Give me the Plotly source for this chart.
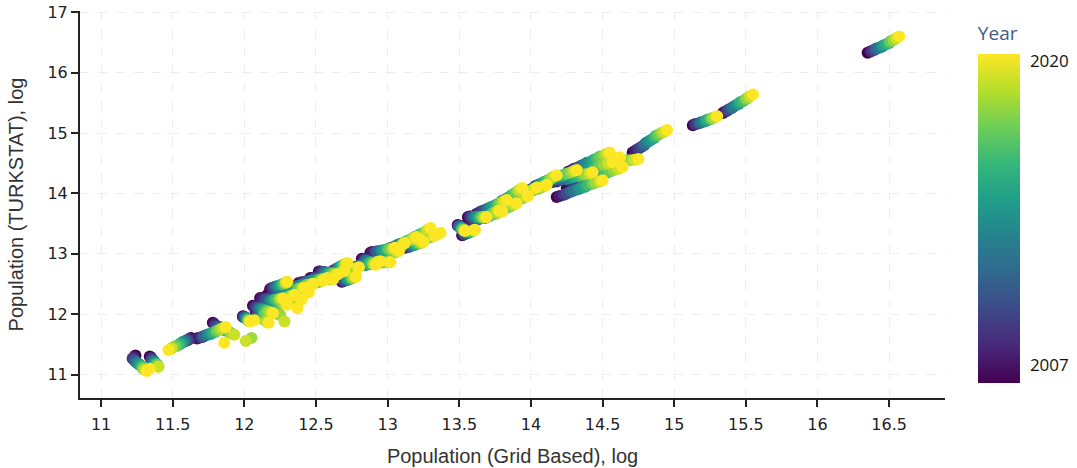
import plotly.graph_objects as go

years = [2007, 2008, 2009, 2010, 2011, 2012, 2013, 2014, 2015, 2016, 2017, 2018, 2019, 2020]

# Each province: log population (grid based) = x, log population (TURKSTAT) = y, per year 2007..2020
p01_x = [11.24, 11.23, 11.22, 11.23, 11.24, 11.25, 11.26, 11.27, 11.28, 11.29, 11.29, 11.30, 11.31, 11.32]
p01_y = [11.32, 11.29, 11.27, 11.25, 11.22, 11.20, 11.18, 11.16, 11.15, 11.13, 11.11, 11.09, 11.08, 11.06]
p02_x = [11.34, 11.35, 11.35, 11.36, 11.36, 11.37, 11.37, 11.38, 11.38, 11.39, 11.39, 11.40, 11.40, 11.34]
p02_y = [11.30, 11.28, 11.26, 11.25, 11.23, 11.22, 11.20, 11.19, 11.18, 11.17, 11.16, 11.14, 11.13, 11.10]
p03_x = [11.63, 11.62, 11.61, 11.60, 11.59, 11.58, 11.57, 11.56, 11.55, 11.54, 11.52, 11.50, 11.49, 11.47]
p03_y = [11.61, 11.60, 11.58, 11.57, 11.56, 11.55, 11.54, 11.52, 11.51, 11.49, 11.47, 11.45, 11.43, 11.41]
p04_x = [11.67, 11.68, 11.70, 11.71, 11.72, 11.74, 11.75, 11.77, 11.78, 11.80, 11.81, 11.83, 11.85, 11.87]
p04_y = [11.60, 11.61, 11.62, 11.63, 11.64, 11.66, 11.67, 11.68, 11.70, 11.71, 11.73, 11.75, 11.77, 11.79]
p05_x = [11.78, 11.79, 11.80, 11.81, 11.83, 11.84, 11.85, 11.86, 11.88, 11.89, 11.90, 11.91, 11.93, 11.86]
p05_y = [11.86, 11.84, 11.82, 11.80, 11.79, 11.77, 11.76, 11.74, 11.73, 11.71, 11.70, 11.68, 11.66, 11.53]
p06_x = [12.09, 12.10, 12.10, 12.11, 12.12, 12.12, 12.13, 12.13, 12.14, 12.14, 12.15, 12.05, 12.01, 12.07]
p06_y = [11.95, 11.96, 11.96, 11.97, 11.98, 11.98, 11.99, 12.00, 12.00, 12.01, 12.02, 11.61, 11.56, 11.90]
p07_x = [12.11, 12.12, 12.14, 12.15, 12.17, 12.18, 12.20, 12.21, 12.23, 12.24, 12.26, 12.27, 12.29, 12.30]
p07_y = [12.27, 12.26, 12.25, 12.25, 12.24, 12.23, 12.22, 12.21, 12.21, 12.20, 12.19, 12.18, 12.17, 12.16]
p08_x = [12.06, 12.07, 12.08, 12.09, 12.10, 12.11, 12.12, 12.13, 12.14, 12.15, 12.16, 12.17, 12.19, 12.20]
p08_y = [12.14, 12.13, 12.12, 12.11, 12.10, 12.10, 12.09, 12.08, 12.07, 12.06, 12.05, 12.04, 12.03, 12.02]
p09_x = [11.99, 11.99, 12.00, 12.00, 12.01, 12.01, 12.02, 12.02, 12.02, 12.03, 12.03, 12.03, 12.04, 12.04]
p09_y = [11.97, 11.96, 11.96, 11.95, 11.94, 11.94, 11.93, 11.92, 11.92, 11.91, 11.90, 11.89, 11.89, 11.88]
p10_x = [12.08, 12.09, 12.09, 12.10, 12.11, 12.11, 12.12, 12.13, 12.13, 12.14, 12.15, 12.15, 12.16, 12.17]
p10_y = [12.04, 12.03, 12.01, 12.00, 11.98, 11.97, 11.95, 11.94, 11.93, 11.91, 11.90, 11.89, 11.87, 11.86]
p11_x = [12.14, 12.15, 12.16, 12.17, 12.18, 12.19, 12.20, 12.21, 12.22, 12.23, 12.24, 12.25, 12.28, 12.37]
p11_y = [12.08, 12.07, 12.06, 12.06, 12.05, 12.04, 12.03, 12.03, 12.02, 12.01, 12.00, 11.99, 11.88, 12.10]
p12_x = [12.16, 12.18, 12.20, 12.22, 12.23, 12.25, 12.27, 12.29, 12.31, 12.33, 12.35, 12.36, 12.38, 12.40]
p12_y = [12.32, 12.31, 12.31, 12.30, 12.30, 12.29, 12.29, 12.28, 12.27, 12.27, 12.26, 12.25, 12.25, 12.24]
p13_x = [12.18, 12.19, 12.20, 12.21, 12.22, 12.23, 12.24, 12.25, 12.26, 12.27, 12.28, 12.29, 12.29, 12.30]
p13_y = [12.42, 12.43, 12.44, 12.45, 12.46, 12.46, 12.47, 12.48, 12.49, 12.50, 12.51, 12.52, 12.53, 12.54]
p14_x = [12.24, 12.25, 12.27, 12.28, 12.30, 12.31, 12.33, 12.34, 12.36, 12.37, 12.38, 12.40, 12.41, 12.42]
p14_y = [12.36, 12.37, 12.37, 12.38, 12.38, 12.39, 12.40, 12.40, 12.41, 12.42, 12.42, 12.43, 12.44, 12.44]
p15_x = [12.30, 12.31, 12.33, 12.34, 12.36, 12.37, 12.39, 12.40, 12.42, 12.43, 12.44, 12.46, 12.47, 12.48]
p15_y = [12.45, 12.45, 12.46, 12.46, 12.46, 12.47, 12.47, 12.48, 12.48, 12.48, 12.49, 12.49, 12.50, 12.50]
p16_x = [12.38, 12.40, 12.41, 12.43, 12.44, 12.46, 12.47, 12.49, 12.51, 12.52, 12.54, 12.55, 12.57, 12.58]
p16_y = [12.52, 12.53, 12.53, 12.54, 12.54, 12.55, 12.56, 12.56, 12.57, 12.57, 12.58, 12.59, 12.59, 12.60]
p17_x = [12.52, 12.53, 12.54, 12.55, 12.56, 12.57, 12.58, 12.59, 12.60, 12.61, 12.62, 12.63, 12.64, 12.65]
p17_y = [12.71, 12.71, 12.70, 12.70, 12.70, 12.69, 12.69, 12.68, 12.68, 12.68, 12.67, 12.67, 12.66, 12.66]
p18_x = [12.46, 12.47, 12.49, 12.50, 12.51, 12.52, 12.54, 12.55, 12.56, 12.57, 12.59, 12.60, 12.61, 12.62]
p18_y = [12.60, 12.60, 12.60, 12.60, 12.59, 12.59, 12.59, 12.59, 12.59, 12.58, 12.58, 12.58, 12.58, 12.58]
p19_x = [12.68, 12.69, 12.69, 12.70, 12.71, 12.72, 12.72, 12.73, 12.74, 12.75, 12.75, 12.76, 12.77, 12.78]
p19_y = [12.54, 12.55, 12.55, 12.56, 12.57, 12.57, 12.58, 12.59, 12.59, 12.60, 12.60, 12.61, 12.62, 12.62]
p20_x = [12.62, 12.63, 12.64, 12.64, 12.65, 12.66, 12.67, 12.67, 12.68, 12.69, 12.70, 12.70, 12.71, 12.72]
p20_y = [12.72, 12.73, 12.74, 12.75, 12.76, 12.77, 12.78, 12.79, 12.80, 12.81, 12.82, 12.83, 12.84, 12.85]
p21_x = [12.74, 12.76, 12.77, 12.79, 12.80, 12.82, 12.84, 12.85, 12.87, 12.88, 12.90, 12.92, 12.93, 12.95]
p21_y = [12.76, 12.77, 12.78, 12.79, 12.80, 12.81, 12.81, 12.82, 12.83, 12.84, 12.85, 12.86, 12.87, 12.88]
p22_x = [12.88, 12.89, 12.91, 12.92, 12.93, 12.95, 12.96, 12.97, 12.99, 13.00, 13.01, 13.03, 13.04, 13.05]
p22_y = [13.02, 13.03, 13.03, 13.04, 13.04, 13.05, 13.05, 13.06, 13.07, 13.07, 13.08, 13.08, 13.09, 13.10]
p23_x = [12.82, 12.83, 12.84, 12.84, 12.85, 12.86, 12.87, 12.87, 12.88, 12.89, 12.90, 12.90, 12.91, 12.92]
p23_y = [12.92, 12.91, 12.90, 12.90, 12.89, 12.88, 12.87, 12.86, 12.86, 12.85, 12.84, 12.83, 12.83, 12.82]
p24_x = [12.86, 12.87, 12.88, 12.90, 12.91, 12.92, 12.93, 12.95, 12.96, 12.97, 12.98, 13.00, 13.01, 13.02]
p24_y = [12.85, 12.85, 12.85, 12.85, 12.85, 12.85, 12.86, 12.86, 12.86, 12.86, 12.86, 12.86, 12.86, 12.86]
p25_x = [12.98, 13.00, 13.01, 13.03, 13.05, 13.06, 13.08, 13.10, 13.12, 13.13, 13.15, 13.17, 13.18, 13.20]
p25_y = [13.05, 13.07, 13.09, 13.10, 13.12, 13.14, 13.16, 13.17, 13.19, 13.21, 13.23, 13.24, 13.26, 13.28]
p26_x = [13.05, 13.07, 13.09, 13.11, 13.13, 13.15, 13.17, 13.19, 13.21, 13.23, 13.25, 13.27, 13.28, 13.30]
p26_y = [13.10, 13.12, 13.15, 13.17, 13.20, 13.22, 13.25, 13.28, 13.30, 13.33, 13.35, 13.38, 13.40, 13.43]
p27_x = [13.10, 13.12, 13.14, 13.16, 13.18, 13.20, 13.22, 13.24, 13.27, 13.29, 13.31, 13.33, 13.35, 13.37]
p27_y = [13.15, 13.17, 13.18, 13.20, 13.21, 13.23, 13.24, 13.26, 13.27, 13.29, 13.30, 13.32, 13.33, 13.35]
p28_x = [13.15, 13.16, 13.16, 13.17, 13.17, 13.18, 13.18, 13.19, 13.19, 13.20, 13.20, 13.21, 13.21, 13.22]
p28_y = [13.18, 13.19, 13.19, 13.20, 13.20, 13.21, 13.21, 13.22, 13.22, 13.23, 13.23, 13.24, 13.24, 13.25]
p29_x = [13.02, 13.03, 13.04, 13.04, 13.05, 13.06, 13.07, 13.07, 13.08, 13.09, 13.10, 13.10, 13.11, 13.12]
p29_y = [13.00, 13.01, 13.03, 13.04, 13.05, 13.07, 13.08, 13.10, 13.11, 13.12, 13.14, 13.15, 13.17, 13.18]
p30_x = [13.52, 13.53, 13.53, 13.54, 13.55, 13.56, 13.56, 13.57, 13.58, 13.58, 13.59, 13.60, 13.60, 13.61]
p30_y = [13.31, 13.32, 13.32, 13.33, 13.34, 13.35, 13.35, 13.36, 13.37, 13.37, 13.38, 13.39, 13.39, 13.40]
p31_x = [13.49, 13.49, 13.50, 13.50, 13.50, 13.51, 13.51, 13.52, 13.52, 13.52, 13.53, 13.53, 13.54, 13.54]
p31_y = [13.48, 13.47, 13.46, 13.46, 13.45, 13.44, 13.43, 13.42, 13.42, 13.41, 13.40, 13.39, 13.39, 13.38]
p32_x = [13.56, 13.58, 13.60, 13.62, 13.63, 13.65, 13.67, 13.69, 13.71, 13.72, 13.74, 13.76, 13.78, 13.80]
p32_y = [13.52, 13.53, 13.55, 13.56, 13.57, 13.59, 13.60, 13.62, 13.63, 13.64, 13.66, 13.67, 13.69, 13.70]
p33_x = [13.68, 13.70, 13.71, 13.73, 13.75, 13.76, 13.78, 13.80, 13.82, 13.83, 13.85, 13.87, 13.88, 13.90]
p33_y = [13.60, 13.62, 13.64, 13.66, 13.67, 13.69, 13.71, 13.73, 13.75, 13.77, 13.78, 13.80, 13.82, 13.84]
p34_x = [14.18, 14.20, 14.23, 14.25, 14.28, 14.30, 14.33, 14.35, 14.38, 14.40, 14.43, 14.45, 14.48, 14.50]
p34_y = [13.94, 13.96, 13.98, 14.00, 14.03, 14.05, 14.07, 14.09, 14.11, 14.14, 14.16, 14.18, 14.20, 14.22]
p35_x = [14.25, 14.28, 14.31, 14.34, 14.37, 14.40, 14.43, 14.46, 14.49, 14.52, 14.55, 14.58, 14.61, 14.64]
p35_y = [14.09, 14.12, 14.14, 14.17, 14.20, 14.22, 14.25, 14.28, 14.31, 14.33, 14.36, 14.39, 14.41, 14.44]
p36_x = [14.36, 14.39, 14.42, 14.45, 14.48, 14.51, 14.54, 14.57, 14.60, 14.63, 14.66, 14.69, 14.72, 14.75]
p36_y = [14.46, 14.47, 14.48, 14.49, 14.50, 14.50, 14.51, 14.52, 14.53, 14.54, 14.55, 14.55, 14.56, 14.57]
p37_x = [14.30, 14.32, 14.35, 14.37, 14.40, 14.42, 14.45, 14.47, 14.50, 14.52, 14.55, 14.57, 14.60, 14.62]
p37_y = [14.40, 14.42, 14.43, 14.45, 14.46, 14.48, 14.49, 14.51, 14.52, 14.54, 14.55, 14.57, 14.58, 14.60]
p38_x = [14.26, 14.28, 14.30, 14.33, 14.35, 14.37, 14.39, 14.42, 14.44, 14.46, 14.48, 14.51, 14.53, 14.55]
p38_y = [14.36, 14.38, 14.41, 14.43, 14.46, 14.48, 14.51, 14.53, 14.56, 14.58, 14.61, 14.63, 14.66, 14.68]
p39_x = [14.20, 14.23, 14.26, 14.29, 14.31, 14.34, 14.37, 14.40, 14.43, 14.46, 14.48, 14.51, 14.54, 14.57]
p39_y = [14.28, 14.30, 14.32, 14.34, 14.35, 14.37, 14.39, 14.41, 14.43, 14.45, 14.46, 14.48, 14.50, 14.52]
p40_x = [14.13, 14.15, 14.18, 14.20, 14.22, 14.25, 14.27, 14.29, 14.31, 14.34, 14.36, 14.38, 14.41, 14.43]
p40_y = [14.18, 14.19, 14.20, 14.22, 14.23, 14.24, 14.25, 14.27, 14.28, 14.29, 14.31, 14.32, 14.33, 14.35]
p41_x = [14.03, 14.05, 14.07, 14.10, 14.12, 14.14, 14.16, 14.19, 14.21, 14.23, 14.25, 14.28, 14.30, 14.32]
p41_y = [14.12, 14.14, 14.16, 14.18, 14.20, 14.22, 14.24, 14.27, 14.29, 14.31, 14.33, 14.35, 14.37, 14.39]
p42_x = [13.95, 13.97, 13.99, 14.00, 14.02, 14.04, 14.06, 14.07, 14.09, 14.11, 14.13, 14.14, 14.16, 14.18]
p42_y = [14.00, 14.02, 14.05, 14.07, 14.09, 14.12, 14.14, 14.16, 14.19, 14.21, 14.23, 14.25, 14.28, 14.30]
p43_x = [13.86, 13.88, 13.90, 13.92, 13.94, 13.96, 13.98, 13.99, 14.01, 14.03, 14.05, 14.07, 14.09, 14.11]
p43_y = [13.90, 13.92, 13.94, 13.96, 13.97, 13.99, 14.01, 14.03, 14.05, 14.07, 14.08, 14.10, 14.12, 14.14]
p44_x = [13.80, 13.82, 13.84, 13.85, 13.87, 13.89, 13.91, 13.93, 13.95, 13.97, 13.98, 14.00, 14.02, 14.04]
p44_y = [13.82, 13.84, 13.86, 13.88, 13.90, 13.92, 13.94, 13.96, 13.98, 14.01, 14.03, 14.05, 14.07, 14.10]
p45_x = [13.72, 13.74, 13.75, 13.77, 13.79, 13.80, 13.82, 13.84, 13.86, 13.87, 13.89, 13.91, 13.92, 13.94]
p45_y = [13.74, 13.77, 13.80, 13.82, 13.85, 13.88, 13.90, 13.93, 13.96, 13.98, 14.01, 14.04, 14.06, 14.09]
p46_x = [13.62, 13.64, 13.65, 13.67, 13.69, 13.70, 13.72, 13.73, 13.75, 13.77, 13.78, 13.80, 13.81, 13.83]
p46_y = [13.66, 13.68, 13.70, 13.72, 13.73, 13.75, 13.77, 13.78, 13.80, 13.82, 13.84, 13.85, 13.87, 13.89]
p47_x = [13.56, 13.57, 13.58, 13.59, 13.60, 13.61, 13.62, 13.63, 13.64, 13.65, 13.66, 13.67, 13.68, 13.69]
p47_y = [13.61, 13.62, 13.62, 13.61, 13.61, 13.62, 13.61, 13.61, 13.60, 13.61, 13.61, 13.60, 13.61, 13.61]
p48_x = [14.71, 14.73, 14.75, 14.77, 14.79, 14.80, 14.82, 14.84, 14.86, 14.87, 14.89, 14.91, 14.93, 14.95]
p48_y = [14.68, 14.71, 14.74, 14.77, 14.80, 14.83, 14.86, 14.89, 14.92, 14.95, 14.97, 15.00, 15.02, 15.05]
p49_x = [15.13, 15.14, 15.15, 15.17, 15.18, 15.19, 15.21, 15.22, 15.23, 15.25, 15.26, 15.27, 15.29, 15.30]
p49_y = [15.13, 15.14, 15.15, 15.16, 15.17, 15.18, 15.19, 15.20, 15.22, 15.23, 15.24, 15.25, 15.27, 15.28]
p50_x = [15.34, 15.35, 15.37, 15.38, 15.40, 15.41, 15.43, 15.45, 15.46, 15.48, 15.50, 15.51, 15.53, 15.55]
p50_y = [15.33, 15.35, 15.37, 15.39, 15.41, 15.43, 15.46, 15.48, 15.51, 15.53, 15.56, 15.58, 15.61, 15.64]
p51_x = [16.35, 16.37, 16.38, 16.40, 16.41, 16.43, 16.45, 16.46, 16.48, 16.50, 16.51, 16.53, 16.55, 16.57]
p51_y = [16.33, 16.35, 16.36, 16.38, 16.40, 16.41, 16.43, 16.45, 16.47, 16.49, 16.52, 16.54, 16.57, 16.60]
p52_x = [12.12, 12.13, 12.14, 12.15, 12.17, 12.18, 12.19, 12.20, 12.21, 12.22, 12.24, 12.25, 12.26, 12.27]
p52_y = [12.20, 12.20, 12.21, 12.21, 12.22, 12.22, 12.23, 12.23, 12.24, 12.24, 12.25, 12.25, 12.26, 12.26]
p53_x = [12.20, 12.21, 12.22, 12.23, 12.24, 12.26, 12.27, 12.28, 12.29, 12.30, 12.31, 12.33, 12.34, 12.35]
p53_y = [12.22, 12.23, 12.24, 12.24, 12.25, 12.26, 12.27, 12.27, 12.28, 12.29, 12.30, 12.30, 12.31, 12.32]
p54_x = [12.26, 12.27, 12.29, 12.30, 12.32, 12.33, 12.35, 12.36, 12.38, 12.39, 12.41, 12.42, 12.44, 12.45]
p54_y = [12.30, 12.30, 12.31, 12.31, 12.32, 12.32, 12.33, 12.33, 12.34, 12.34, 12.35, 12.35, 12.36, 12.36]
p55_x = [12.42, 12.43, 12.44, 12.45, 12.46, 12.47, 12.48, 12.49, 12.50, 12.51, 12.52, 12.53, 12.54, 12.55]
p55_y = [12.48, 12.49, 12.49, 12.50, 12.50, 12.51, 12.52, 12.52, 12.53, 12.53, 12.54, 12.55, 12.55, 12.56]
p56_x = [12.58, 12.59, 12.60, 12.61, 12.62, 12.63, 12.64, 12.65, 12.66, 12.66, 12.67, 12.68, 12.69, 12.70]
p56_y = [12.62, 12.63, 12.64, 12.64, 12.65, 12.66, 12.67, 12.67, 12.68, 12.69, 12.70, 12.70, 12.71, 12.72]
p57_x = [12.66, 12.67, 12.68, 12.69, 12.70, 12.71, 12.72, 12.74, 12.75, 12.76, 12.77, 12.78, 12.79, 12.80]
p57_y = [12.66, 12.67, 12.68, 12.69, 12.70, 12.71, 12.72, 12.73, 12.74, 12.75, 12.75, 12.76, 12.77, 12.78]
p58_x = [12.92, 12.93, 12.94, 12.96, 12.97, 12.98, 12.99, 13.01, 13.02, 13.03, 13.04, 13.06, 13.07, 13.08]
p58_y = [12.92, 12.93, 12.94, 12.95, 12.96, 12.97, 12.98, 12.99, 13.00, 13.01, 13.02, 13.03, 13.04, 13.05]
p59_x = [13.12, 13.13, 13.14, 13.15, 13.16, 13.17, 13.18, 13.19, 13.20, 13.21, 13.22, 13.23, 13.24, 13.25]
p59_y = [13.10, 13.11, 13.12, 13.12, 13.13, 13.14, 13.15, 13.15, 13.16, 13.17, 13.18, 13.18, 13.19, 13.20]
p60_x = [13.20, 13.21, 13.22, 13.23, 13.24, 13.25, 13.26, 13.27, 13.28, 13.29, 13.30, 13.31, 13.32, 13.33]
p60_y = [13.22, 13.23, 13.23, 13.24, 13.25, 13.25, 13.26, 13.26, 13.27, 13.28, 13.28, 13.29, 13.29, 13.30]
p61_x = [13.62, 13.63, 13.64, 13.66, 13.67, 13.68, 13.69, 13.71, 13.72, 13.73, 13.74, 13.76, 13.77, 13.78]
p61_y = [13.58, 13.59, 13.60, 13.61, 13.62, 13.63, 13.64, 13.65, 13.66, 13.67, 13.68, 13.70, 13.71, 13.72]
p62_x = [13.80, 13.81, 13.83, 13.84, 13.85, 13.87, 13.88, 13.90, 13.91, 13.92, 13.94, 13.95, 13.97, 13.98]
p62_y = [13.80, 13.81, 13.82, 13.84, 13.85, 13.86, 13.87, 13.89, 13.90, 13.91, 13.92, 13.94, 13.95, 13.96]

x_ticks = [11, 11.5, 12, 12.5, 13, 13.5, 14, 14.5, 15, 15.5, 16, 16.5]
y_ticks = [11, 12, 13, 14, 15, 16, 17]
cbar_ticktext = ["2007", "2020"]

g = globals()
tracks = [(g["p%02d_x" % i], g["p%02d_y" % i]) for i in range(1, 63)]

# order points by year so later years are drawn on top
xs, ys, cs = [], [], []
for k, yr in enumerate(years):
    for tx, ty in tracks:
        xs.append(tx[k])
        ys.append(ty[k])
        cs.append(yr)

fig = go.Figure(go.Scatter(
    x=xs, y=ys, mode="markers",
    marker=dict(
        size=12, color=cs, colorscale="Viridis", cmin=years[0], cmax=years[-1],
        opacity=1, line=dict(width=0),
        colorbar=dict(
            title=dict(text="Year", side="top",
                       font=dict(family="Open Sans", size=19, color="#4a5a7c")),
            thickness=42, thicknessmode="pixels",
            len=360, lenmode="pixels",
            x=1.038, xanchor="left", xpad=0,
            y=0.504, yanchor="middle", ypad=0,
            outlinewidth=0,
            tickvals=[years[0] + 0.7, years[-1] - 0.3], ticktext=cbar_ticktext,
            ticks="outside", ticklen=7, tickcolor="rgba(0,0,0,0)",
            tickfont=dict(family="Open Sans", size=17, color="#111"),
        ),
    ),
    hovertemplate="x=%{x}<br>y=%{y}<br>Year=%{marker.color}<extra></extra>",
))

axis_common = dict(
    showline=True, linecolor="#222", linewidth=2, mirror=False,
    ticks="outside", ticklen=7, tickwidth=1.5, tickcolor="#222",
    showgrid=True, gridcolor="#ededed", gridwidth=1, griddash="dash",
    zeroline=False, ticklabeloverflow="allow",
    tickfont=dict(family="DejaVu Sans", size=16, color="#222"),
)

fig.update_layout(
    width=1077, height=468,
    margin=dict(l=80, r=132, t=11, b=70, autoexpand=False),
    plot_bgcolor="white", paper_bgcolor="white",
    showlegend=False,
    xaxis=dict(
        range=[10.853, 16.89], tickvals=x_ticks, ticktext=[str(v) for v in x_ticks],
        title=dict(text="Population (Grid Based), log", standoff=16,
                   font=dict(family="Liberation Sans", size=20, color="#333")),
        ticklabelstandoff=4,
        **axis_common,
    ),
    yaxis=dict(
        range=[10.615, 17.02], tickvals=y_ticks, ticktext=[str(v) for v in y_ticks],
        title=dict(text="Population (TURKSTAT), log", standoff=18,
                   font=dict(family="Liberation Sans", size=20, color="#333")),
        **axis_common,
    ),
)

# remove the default page margin so the figure sits at the window origin
fig.write_html("out.html", config={"displayModeBar": False},
               post_script="document.body.style.margin='0';")
